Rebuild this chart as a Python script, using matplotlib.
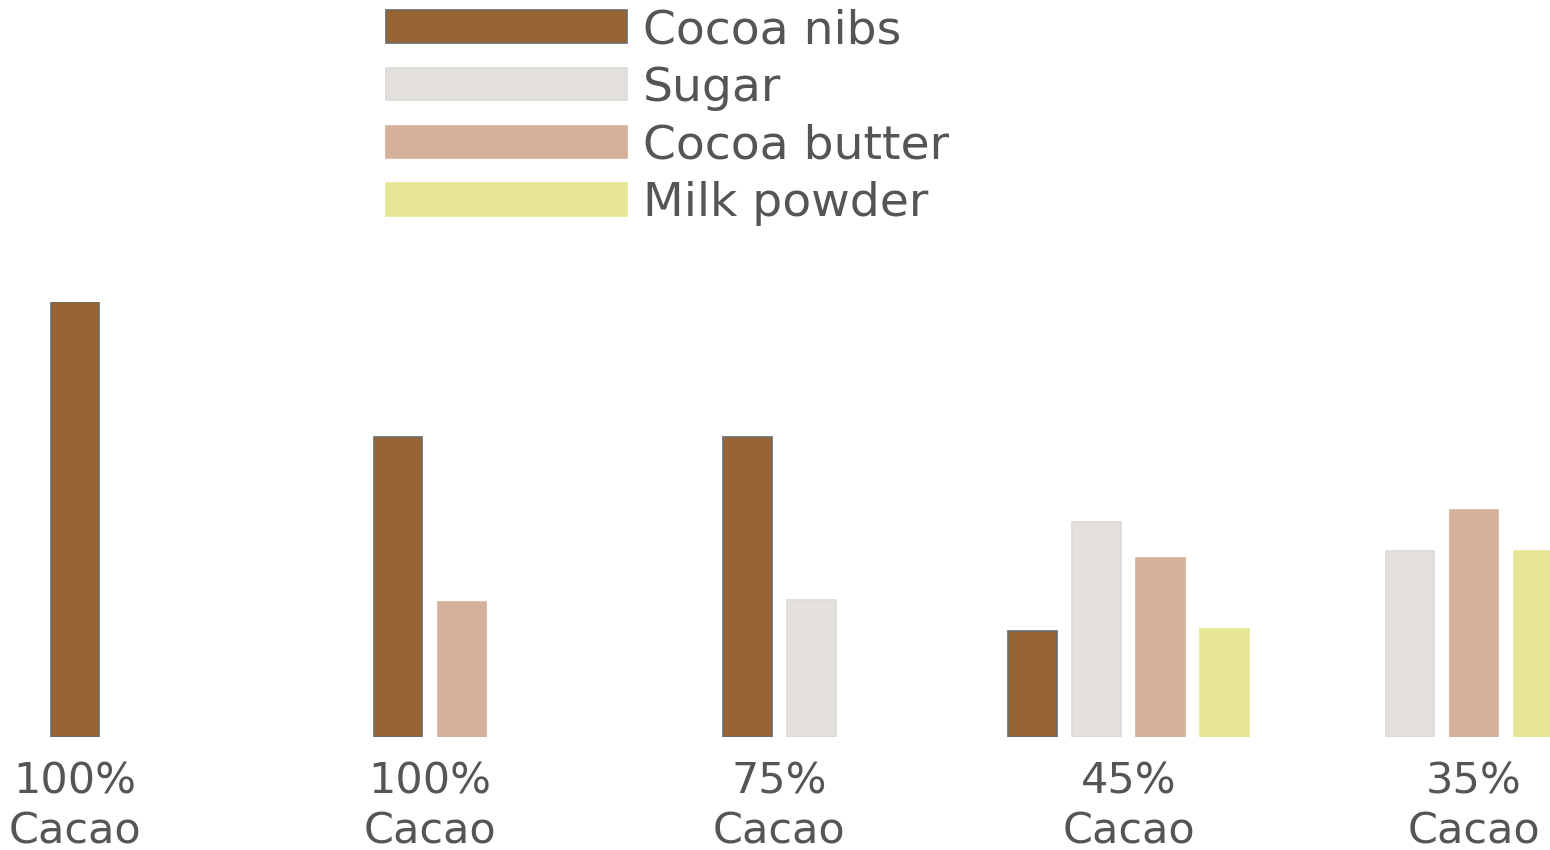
import matplotlib.pyplot as plt
from matplotlib.patches import Patch

# chocolate types and recipe parts
groups = ['100%\nCacao', '100%\nCacao', '75%\nCacao', '45%\nCacao', '35%\nCacao']
series = ['Cocoa nibs', 'Sugar', 'Cocoa butter', 'Milk powder']
cocoa_nibs = [100, 69, 69, 24.4, 0]
sugar = [0, 0, 31.5, 49.4, 42.8]
cocoa_butter = [0, 31, 0, 41.1, 52.2]
milk_powder = [0, 0, 0, 24.8, 42.8]

colors = ['#976434', '#e3e0dd', '#d3b19b', '#e7e596']
edges = ['#6b6b6b', '#dcdad7', '#d3b19b', '#e7e596']
text_color = '#555555'

plt.rcParams['font.family'] = ['DejaVu Sans']

fig = plt.figure(figsize=(15.5, 8.5), dpi=100)
ax = fig.add_axes([0, 113 / 850, 1, 435 / 850])

values = [cocoa_nibs, sugar, cocoa_butter, milk_powder]
centers = [0, 1.015, 2.013, 3.012, 4]
width = 0.14
step = 0.183

for g in range(len(groups)):
    # only the parts used in this recipe, packed side by side
    present = [s for s in range(len(series)) if values[s][g] > 0]
    n = len(present)
    for k, s in enumerate(present):
        x = centers[g] + (k - (n - 1) / 2) * step
        ax.bar(x, values[s][g], width=width, color=colors[s],
               edgecolor=edges[s], linewidth=1.2)
    ax.annotate(groups[g], xy=(centers[g], 0), xytext=(0, -17), textcoords='offset points',
                ha='center', va='top', fontsize=31, color=text_color,
                linespacing=1.25)

ax.set_xlim(-75 / 349.75, 1475 / 349.75)
ax.set_ylim(0, 100)
ax.axis('off')

handles = [Patch(facecolor=colors[i], edgecolor=edges[i], linewidth=1.2) for i in range(4)]
fig.legend(handles, series, loc='upper left', bbox_to_anchor=(386 / 1550, 1 - 8 / 850),
           frameon=False, fontsize=34, labelcolor=text_color, handlelength=5.1,
           handleheight=0.68, handletextpad=0.34, labelspacing=0.27,
           borderpad=0, borderaxespad=0)

fig.savefig('out.png', dpi=100)
